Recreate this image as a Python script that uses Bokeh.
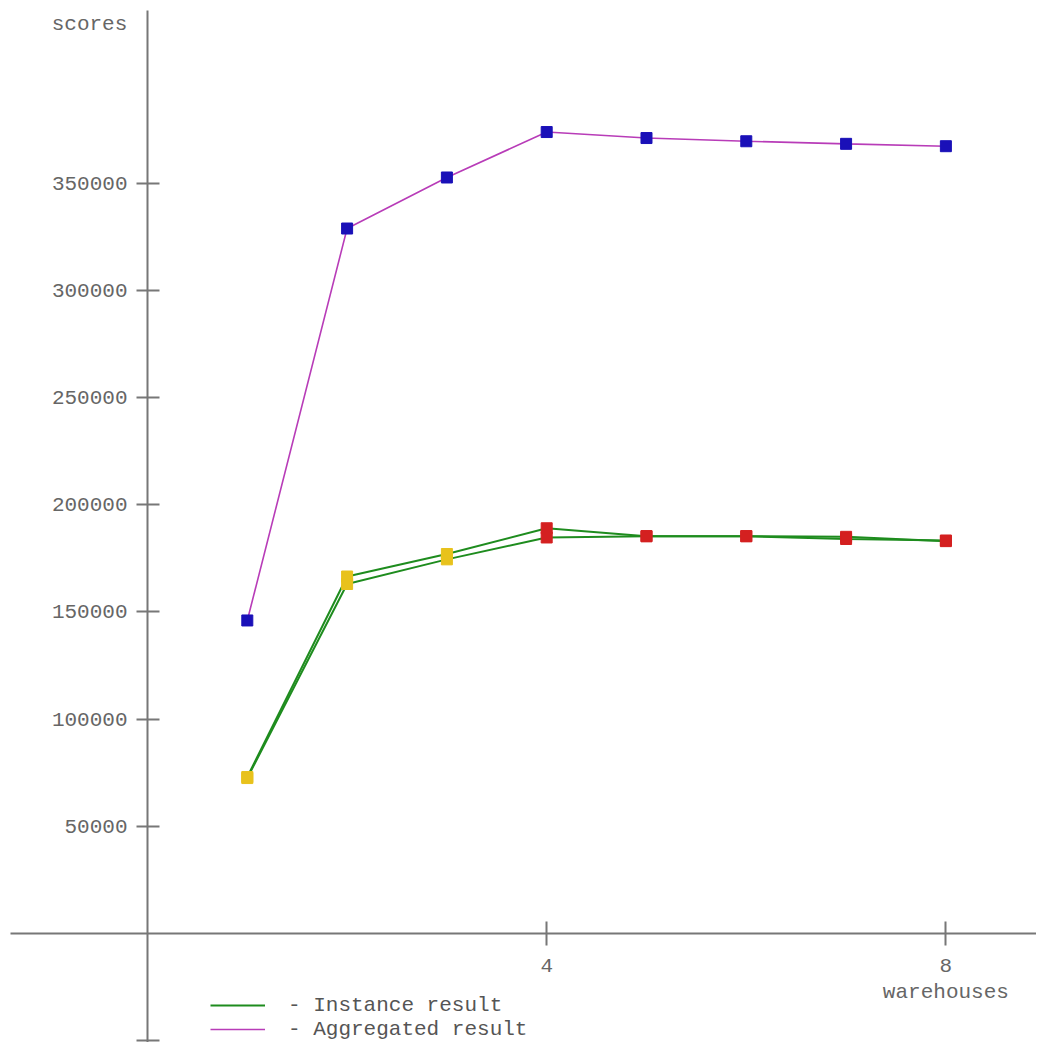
from bokeh.plotting import figure
from bokeh.models import (ColumnDataSource, LinearAxis, FixedTicker, Legend, LegendItem,
                          Label, Range1d, BasicTickFormatter)
from bokeh.embed import file_html
from bokeh.resources import INLINE

# ---- data ----
warehouses = [1, 2, 3, 4, 5, 6, 7, 8]
aggregated = [146000, 328800, 352600, 373800, 371000, 369500, 368300, 367200]
instance_a = [73000, 166500, 177000, 189000, 185300, 185300, 185000, 183000]
instance_b = [72500, 163000, 174500, 184700, 185300, 185300, 184000, 183300]
instance_marker_colors = ["#E8C21C", "#E8C21C", "#E8C21C", "#D42020",
                          "#D42020", "#D42020", "#D42020", "#D42020"]
x_ticks = [4, 8]
y_ticks = [-50000, 50000, 100000, 150000, 200000, 250000, 300000, 350000]

W, H = 1036, 1042
FONT = "Liberation Mono"
GRAY = "#777777"
TXT = "#666666"
FS = "21px"

p = figure(width=W, height=H, output_backend="svg", toolbar_location=None,
           x_range=Range1d(-1.473, 8.908), y_range=Range1d(-50840, 435150),
           x_axis_type=None, y_axis_type=None, min_border=0,
           background_fill_color="white", border_fill_color="white")
p.outline_line_color = None
p.xgrid.visible = False
p.ygrid.visible = False

# axes crossing at origin
xaxis = LinearAxis(fixed_location=0, ticker=FixedTicker(ticks=x_ticks), bounds=(-1.373, 9.5))
xaxis.axis_line_color = GRAY
xaxis.axis_line_width = 2
xaxis.major_tick_line_color = GRAY
xaxis.major_tick_line_width = 2
xaxis.major_tick_in = 12
xaxis.major_tick_out = 12
xaxis.minor_tick_line_color = None
xaxis.major_label_standoff = 14
xaxis.major_label_text_font = FONT
xaxis.major_label_text_font_size = FS
xaxis.major_label_text_color = TXT
p.add_layout(xaxis, "below")

yaxis = LinearAxis(fixed_location=0, ticker=FixedTicker(ticks=y_ticks),
                   formatter=BasicTickFormatter(use_scientific=False),
                   bounds=(-60000, 430500))
yaxis.axis_line_color = GRAY
yaxis.axis_line_width = 2
yaxis.major_tick_line_color = GRAY
yaxis.major_tick_line_width = 2
yaxis.major_tick_in = 12
yaxis.major_tick_out = 11
yaxis.minor_tick_line_color = None
yaxis.major_label_standoff = 9
yaxis.major_label_text_font = FONT
yaxis.major_label_text_font_size = FS
yaxis.major_label_text_color = TXT
yaxis.major_label_overrides = {-50000: ""}
p.add_layout(yaxis, "left")

# series
src = ColumnDataSource(dict(x=warehouses, agg=aggregated, a=instance_a, b=instance_b,
                            mc=instance_marker_colors))
la = p.line("x", "a", source=src, line_color="#1E8C1E", line_width=2)
lb = p.line("x", "b", source=src, line_color="#1E8C1E", line_width=2)
lagg = p.line("x", "agg", source=src, line_color="#B83CB8", line_width=1.6)
p.scatter("x", "a", source=src, marker="square", size=11, fill_color="mc", line_color="mc")
p.scatter("x", "b", source=src, marker="square", size=11, fill_color="mc", line_color="mc")
p.scatter("x", "agg", source=src, marker="square", size=11, fill_color="#1A10B8", line_color="#1A10B8")

# legend
legend = Legend(items=[LegendItem(label="- Instance result", renderers=[la]),
                       LegendItem(label="- Aggregated result", renderers=[lagg])],
                location=(210, 1), orientation="vertical",
                glyph_width=55, glyph_height=24, label_height=24, label_standoff=23,
                spacing=0, padding=0, margin=0,
                border_line_color=None, background_fill_alpha=0,
                label_text_font=FONT, label_text_font_size=FS,
                label_text_color="#555555")
legend.item_background_fill_alpha = 0
p.add_layout(legend, "center")

# axis titles
p.add_layout(Label(x=89, y=H - 24, x_units="screen", y_units="screen", text="scores",
                   text_align="center", text_baseline="middle", text_font=FONT,
                   text_font_size=FS, text_color=TXT))
p.add_layout(Label(x=8, y=H - 992, x_units="data", y_units="screen", text="warehouses",
                   text_align="center", text_baseline="middle", text_font=FONT,
                   text_font_size=FS, text_color=TXT))

open("out.html", "w").write(file_html(p, INLINE))
